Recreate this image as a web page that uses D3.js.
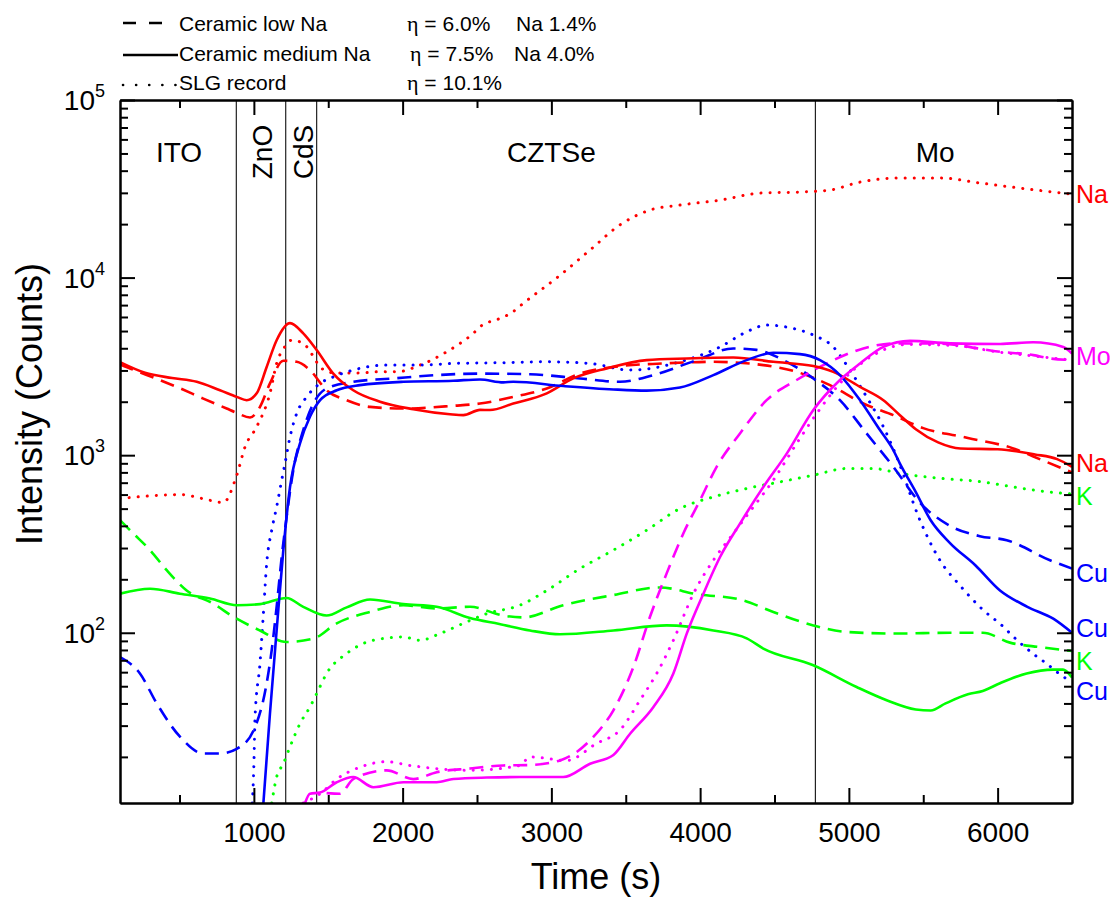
<!DOCTYPE html>
<html>
<head>
<meta charset="utf-8">
<script src="https://cdn.jsdelivr.net/npm/d3@7"></script>
<style>
  body { margin: 0; background: #fff; }
  text { font-family: "Liberation Sans", Arial, sans-serif; fill: #000; }
</style>
</head>
<body>
<svg id="chart" width="1115" height="897"></svg>
<script>
// ---- SIMS depth profiles: [time (s), intensity (counts)] ----
// Na
const naLow = [[100,3250],[200,3000],[335,2716],[481,2425],[660,2083],[817,1830],[885,1730],[974,1630],[1041,1870],[1108,2535],[1198,3400],[1288,3355],[1377,3015],[1489,2320],[1624,2040],[1781,1870],[2005,1830],[2341,1897],[2520,1953],[2744,2130],[2969,2375],[3193,2880],[3417,3140],[3753,3285],[4089,3355],[4425,3215],[4649,2945],[4873,2480],[5097,1953],[5299,1680],[5500,1420],[5800,1250],[6100,1095],[6300,937],[6500,800]];
const naMed = [[100,3340],[268,2910],[450,2720],[616,2590],[772,2320],[885,2130],[952,2040],[1019,2230],[1086,3140],[1153,4440],[1243,5540],[1332,4850],[1422,3910],[1534,2880],[1668,2320],[1848,2000],[2072,1815],[2318,1700],[2408,1680],[2520,1800],[2587,1795],[2744,1953],[2969,2230],[3147,2705],[3372,3080],[3641,3430],[3910,3505],[4223,3550],[4492,3355],[4761,3175],[4895,2945],[5075,2425],[5232,2040],[5343,1680],[5450,1400],[5600,1180],[5750,1090],[6000,1080],[6250,1010],[6400,950],[6500,860]];
const naSLG = [[100,570],[302,590],[503,600],[705,557],[794,541],[885,771],[941,1115],[1019,1445],[1108,2230],[1153,3285],[1210,4100],[1254,4440],[1332,4260],[1400,3600],[1450,3100],[1550,2900],[1700,2900],[1850,2950],[1960,2945],[2117,3215],[2296,3820],[2386,4260],[2475,4850],[2520,5280],[2655,5890],[2733,6340],[2811,7160],[3058,10300],[3260,14300],[3461,19800],[3663,24000],[3865,25600],[4134,27300],[4402,29900],[4671,30300],[4873,31100],[5075,34500],[5343,36400],[5612,36400],[5881,34100],[6150,31900],[6500,29500]];
// Cu
const cuLow = [[100,73],[234,59],[347,40],[503,26],[660,20.9],[772,20.9],[885,22.2],[996,28],[1086,52],[1120,80],[1153,140],[1187,267],[1220,449],[1265,822],[1332,1385],[1400,1953],[1489,2375],[1668,2590],[1937,2705],[2229,2825],[2520,2880],[2856,2855],[3193,2705],[3461,2590],[3686,2825],[3977,3430],[4223,3990],[4380,3915],[4582,3355],[4761,2705],[4940,2040],[5119,1326],[5299,860],[5478,540],[5680,400],[5880,350],[6061,332],[6352,256],[6500,230]];
const cuMed = [[1064,11],[1108,35],[1153,103],[1198,292],[1243,662],[1310,1164],[1377,1645],[1445,2040],[1557,2320],[1713,2480],[2005,2590],[2341,2625],[2520,2670],[2677,2570],[2744,2590],[3080,2450],[3417,2345],[3641,2310],[3865,2405],[4089,2825],[4313,3430],[4492,3770],[4671,3705],[4806,3430],[4940,2825],[5075,2040],[5209,1385],[5299,1066],[5343,897],[5450,620],[5550,430],[5680,320],[5850,240],[6016,173],[6200,140],[6374,120],[6500,100]];
const cuSLG = [[990,11],[1000,18],[1008,33.6],[1041,67],[1064,128],[1086,245],[1120,378],[1153,511],[1187,723],[1209,897],[1243,1268],[1288,1717],[1355,2130],[1445,2535],[1534,2760],[1668,3015],[1893,3215],[2117,3215],[2341,3285],[2610,3310],[2969,3355],[3260,3285],[3529,3015],[3865,3355],[4134,4070],[4313,4950],[4447,5400],[4626,5170],[4761,4750],[4895,4070],[5007,3015],[5119,2130],[5232,1445],[5321,980],[5478,430],[5612,256],[5746,185],[5900,135],[6039,108],[6106,95],[6240,76],[6319,68],[6464,55],[6500,53]];
// K
const kLow = [[100,430],[190,362],[302,292],[414,225],[548,173],[727,146],[862,123],[1041,103],[1220,88.7],[1400,92.7],[1557,113],[1781,131],[2005,143],[2229,137],[2453,140],[2677,125],[2811,122],[3080,143],[3417,163],[3730,180],[3977,165],[4268,154],[4492,131],[4761,110],[4985,101],[5321,99],[5680,100],[5900,100],[6083,88],[6285,83],[6500,79]];
const kMed = [[100,166],[302,177],[503,166],[705,156],[885,143],[1041,145],[1220,157],[1332,140],[1489,125],[1624,139],[1781,154],[2005,145],[2229,140],[2453,121],[2650,112],[2856,103],[3058,98],[3417,103],[3775,110],[4089,103],[4313,93],[4425,81.5],[4761,65.6],[5052,49.5],[5254,41.7],[5450,37],[5550,36.5],[5650,40],[5800,45],[5900,47],[6016,52],[6195,59],[6374,62],[6440,62],[6500,56]];
const kSLG = [[1120,11],[1153,15.4],[1198,18.3],[1243,22.8],[1310,30.8],[1377,38.2],[1422,45.4],[1489,59],[1624,76.4],[1803,90.7],[2005,94.6],[2117,90.7],[2251,98.9],[2408,113],[2565,128],[2789,143],[2969,173],[3193,230],[3417,292],[3641,378],[3865,501],[4089,582],[4313,649],[4537,707],[4761,771],[4985,841],[5164,841],[5343,789],[5612,741],[5881,710],[6150,653],[6419,612],[6500,605]];
// Mo
const moLow = [[1489,12.5],[1579,12.4],[1668,15],[1893,16.8],[2072,15],[2229,16.4],[2453,17.2],[2677,17.9],[2856,18],[3058,19.1],[3282,25.9],[3417,36.6],[3551,64],[3663,123],[3775,216],[3887,362],[3999,557],[4111,860],[4268,1326],[4447,2040],[4649,2650],[4873,3355],[5097,3990],[5321,4260],[5600,4250],[6016,3820],[6240,3660],[6352,3505],[6500,3430]];
const moMed = [[1344,11],[1377,12.4],[1445,12.6],[1557,14.4],[1668,15.4],[1803,13.5],[2005,14.4],[2229,14.4],[2341,15],[2565,15.3],[2789,15.4],[3080,15.4],[3260,18.3],[3417,20.5],[3529,27],[3686,38.2],[3820,59],[3910,98.9],[4022,166],[4134,267],[4268,412],[4425,662],[4582,1020],[4761,1795],[4940,2650],[5075,3285],[5232,4070],[5411,4400],[5680,4260],[6016,4230],[6240,4320],[6441,4070],[6500,3740]];
const moSLG = [[1332,11],[1445,12.4],[1557,15],[1713,17.5],[1893,18.8],[2050,17.9],[2453,16.8],[2789,17.9],[2856,20],[3103,19.1],[3304,23.8],[3461,28.3],[3596,41.7],[3708,59],[3820,90.7],[3955,166],[4089,256],[4223,362],[4358,511],[4492,723],[4649,1164],[4784,1717],[4940,2535],[5030,3015],[5200,3800],[5400,4200],[5700,4150],[6016,3800],[6240,3620],[6500,3430]];

// Layer boundaries (s) and layer names
const boundaries = [882, 1214, 1422, 4775];
const layers = [
  { name: "ITO",   t: 500,  rotate: false },
  { name: "ZnO",   t: 1000, rotate: true },
  { name: "CdS",   t: 1270, rotate: true },
  { name: "CZTSe", t: 3000, rotate: false },
  { name: "Mo",    t: 5580, rotate: false }
];

// Axis ticks
const xMajor = [1000, 2000, 3000, 4000, 5000, 6000];
const xMinor = [500, 1500, 2500, 3500, 4500, 5500];
const yMajor = [1e2, 1e3, 1e4, 1e5];

// Element labels at the right edge: [text, series colour, anchor counts]
const endLabels = [
  ["Na", "#ff0000", 29400],
  ["Mo", "#ff00ff", 3610],
  ["Na", "#ff0000", 906],
  ["K",  "#00ff00", 588],
  ["Cu", "#0000ff", 217],
  ["Cu", "#0000ff", 106],
  ["K",  "#00ff00", 69],
  ["Cu", "#0000ff", 46.8]
];

// Legend rows
const legendRows = [
  { style: "dash",  name: "Ceramic low Na",    eta: "6.0%",  na: "Na 1.4%" },
  { style: "solid", name: "Ceramic medium Na", eta: "7.5%",  na: "Na 4.0%" },
  { style: "dot",   name: "SLG record",        eta: "10.1%", na: "" }
];

const dashes = { dash: "14,8", solid: null, dot: "0.1,9" };
const series = [
  { data: naSLG, color: "#ff0000", style: "dot" },
  { data: kSLG,  color: "#00ff00", style: "dot" },
  { data: cuSLG, color: "#0000ff", style: "dot" },
  { data: moSLG, color: "#ff00ff", style: "dot" },
  { data: kLow,  color: "#00ff00", style: "dash" },
  { data: naLow, color: "#ff0000", style: "dash" },
  { data: cuLow, color: "#0000ff", style: "dash" },
  { data: moLow, color: "#ff00ff", style: "dash" },
  { data: kMed,  color: "#00ff00", style: "solid" },
  { data: naMed, color: "#ff0000", style: "solid" },
  { data: cuMed, color: "#0000ff", style: "solid" },
  { data: moMed, color: "#ff00ff", style: "solid" }
];

const svg = d3.select("#chart");
const L = 120, R = 1072, T = 100, B = 803;
const x = d3.scaleLinear().domain([100, 6500]).range([L, R]);
const y = d3.scaleLog().domain([11, 1e5]).range([B, T]);

// clip
svg.append("defs").append("clipPath").attr("id", "plot")
  .append("rect").attr("x", L).attr("y", T).attr("width", R - L).attr("height", B - T);

// layer boundaries
svg.append("g").selectAll("line").data(boundaries).join("line")
  .attr("x1", d => x(d)).attr("x2", d => x(d))
  .attr("y1", T).attr("y2", B)
  .attr("stroke", "#222").attr("stroke-width", 1.2);

// layer names
const lg = svg.append("g").attr("font-size", 28);
layers.forEach(l => {
  if (l.rotate) {
    lg.append("text").attr("text-anchor", "middle")
      .attr("transform", `translate(${l.name === "ZnO" ? 271.5 : 313},152) rotate(-90)`)
      .text(l.name);
  } else {
    lg.append("text").attr("text-anchor", "middle")
      .attr("x", l.name === "ITO" ? 179 : x(l.t)).attr("y", 162)
      .text(l.name);
  }
});

// curves
const line = d3.line().x(d => x(d[0])).y(d => y(d[1])).curve(d3.curveMonotoneX);
svg.append("g").attr("clip-path", "url(#plot)")
  .selectAll("path").data(series).join("path")
  .attr("d", d => line(d.data))
  .attr("fill", "none")
  .attr("stroke", d => d.color)
  .attr("stroke-width", d => d.style === "dot" ? 3 : 2.6)
  .attr("stroke-linecap", d => d.style === "dot" ? "round" : "butt")
  .attr("stroke-linejoin", "round")
  .attr("stroke-dasharray", d => dashes[d.style]);

// axes (ticks point inward on all four sides)
function styleAxis(g) {
  g.selectAll("path.domain").attr("stroke", "#000").attr("stroke-width", 2);
  g.selectAll(".tick line").attr("stroke", "#000").attr("stroke-width", 2);
}
const yMinor = [];
for (let e = 1; e <= 4; e++) for (let m = 2; m <= 9; m++) { const v = m * Math.pow(10, e); if (v >= 11 && v < 1e5) yMinor.push(v); }

svg.append("g").attr("transform", `translate(0,${B})`)
  .call(d3.axisBottom(x).tickValues(xMinor).tickSize(-8).tickSizeOuter(0).tickFormat(""))
  .call(styleAxis);
const xb = svg.append("g").attr("transform", `translate(0,${B})`)
  .call(d3.axisBottom(x).tickValues(xMajor).tickSize(-15).tickSizeOuter(0).tickPadding(19).tickFormat(d3.format("d")))
  .call(styleAxis);
xb.selectAll("text").attr("font-size", 28).attr("font-family", "Liberation Sans, Arial, sans-serif").attr("fill", "#000");

svg.append("g").attr("transform", `translate(0,${T})`)
  .call(d3.axisTop(x).tickValues(xMinor).tickSize(-8).tickSizeOuter(0).tickFormat(""))
  .call(styleAxis);
svg.append("g").attr("transform", `translate(0,${T})`)
  .call(d3.axisTop(x).tickValues(xMajor).tickSize(-15).tickSizeOuter(0).tickFormat(""))
  .call(styleAxis);

svg.append("g").attr("transform", `translate(${L},0)`)
  .call(d3.axisLeft(y).tickValues(yMinor).tickSize(-8).tickSizeOuter(0).tickFormat(""))
  .call(styleAxis);
svg.append("g").attr("transform", `translate(${L},0)`)
  .call(d3.axisLeft(y).tickValues(yMajor).tickSize(-15).tickSizeOuter(0).tickFormat(""))
  .call(styleAxis);
svg.append("g").attr("transform", `translate(${R},0)`)
  .call(d3.axisRight(y).tickValues(yMinor).tickSize(-8).tickSizeOuter(0).tickFormat(""))
  .call(styleAxis);
svg.append("g").attr("transform", `translate(${R},0)`)
  .call(d3.axisRight(y).tickValues(yMajor).tickSize(-15).tickSizeOuter(0).tickFormat(""))
  .call(styleAxis);

// y tick labels as powers of ten
const yl = svg.append("g").attr("font-size", 28);
yMajor.forEach(v => {
  const t = yl.append("text").attr("x", 105).attr("y", y(v) + 10).attr("text-anchor", "end");
  t.append("tspan").text("10");
  t.append("tspan").attr("font-size", 18).attr("dy", -13).text(Math.round(Math.log10(v)));
});

// axis titles
svg.append("text").attr("x", (L + R) / 2).attr("y", 889).attr("text-anchor", "middle")
  .attr("font-size", 36).text("Time (s)");
svg.append("text").attr("transform", "translate(42,404) rotate(-90)").attr("text-anchor", "middle")
  .attr("font-size", 36).text("Intensity (Counts)");

// element labels
svg.append("g").attr("font-size", 25).selectAll("text").data(endLabels).join("text")
  .attr("x", 1076).attr("y", d => y(d[2])).attr("dy", "0.36em")
  .style("fill", d => d[1]).text(d => d[0]);

// legend
const leg = svg.append("g");
const rowY = [23, 55, 85], rowBase = [31, 61, 90];
legendRows.forEach((r, i) => {
  const lx2 = r.style === "dash" ? 162 : (r.style === "solid" ? 178 : 177);
  leg.append("line").attr("x1", 123).attr("x2", lx2).attr("y1", rowY[i]).attr("y2", rowY[i])
    .attr("stroke", "#000").attr("stroke-width", r.style === "dot" ? 2.6 : 2.4)
    .attr("stroke-linecap", r.style === "dot" ? "round" : "butt")
    .attr("stroke-dasharray", r.style === "dash" ? "13,13" : (r.style === "dot" ? "0.1,13" : null));
  leg.append("text").attr("x", 179).attr("y", rowBase[i]).attr("font-size", 21).text(r.name);
  const et = leg.append("text").attr("x", i === 1 ? 410 : 407).attr("y", rowBase[i]).attr("font-size", 21);
  et.append("tspan").attr("font-family", "Liberation Serif, serif").attr("font-size", 22).text("\u03b7");
  et.append("tspan").text(" = " + r.eta);
  if (r.na) leg.append("text").attr("x", i === 1 ? 514 : 516).attr("y", rowBase[i]).attr("font-size", 21).text(r.na);
});
</script>
</body>
</html>
